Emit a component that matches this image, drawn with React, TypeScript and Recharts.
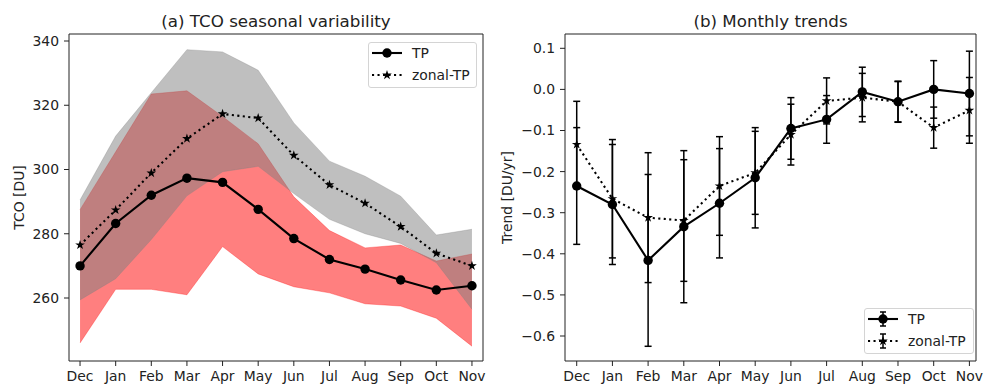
import React from 'react';
import { ComposedChart, Line, Area, XAxis, YAxis, ErrorBar, ReferenceArea } from 'recharts';

const months = ['Dec', 'Jan', 'Feb', 'Mar', 'Apr', 'May', 'Jun', 'Jul', 'Aug', 'Sep', 'Oct', 'Nov'];

// (a) seasonal TCO [DU]
const tpMean = [270, 283.2, 292, 297.3, 296, 287.6, 278.5, 272, 269, 265.6, 262.5, 263.8];
const zonalMean = [276.5, 287.4, 298.9, 309.6, 317.3, 316, 304.4, 295.2, 289.5, 282.2, 273.9, 270];
const tpLow = [246, 262.7, 262.7, 261, 276, 267.5, 263.5, 261.6, 258.2, 257.5, 253.7, 245];
const tpHigh = [287.5, 305.5, 323.5, 324.5, 316.5, 308, 291.5, 281, 275.6, 276.5, 271.5, 273.7];
const zonalLow = [259.4, 266, 278.2, 291.8, 299.3, 301, 292.5, 284.5, 280, 277, 271, 256.5];
const zonalHigh = [290.5, 310.4, 323.9, 337.3, 336.6, 330.9, 314.5, 302.6, 297.9, 291.7, 279.6, 281.4];

// (b) monthly trends [DU/yr]
const tpTrend = [-0.235, -0.28, -0.416, -0.334, -0.277, -0.215, -0.095, -0.073, -0.006, -0.03, 0.0, -0.01];
const tpTrendErr = [0.142, 0.146, 0.209, 0.185, 0.133, 0.122, 0.075, 0.058, 0.06, 0.05, 0.07, 0.103];
const zonalTrend = [-0.134, -0.266, -0.312, -0.319, -0.235, -0.203, -0.11, -0.028, -0.02, -0.03, -0.093, -0.051];
const zonalTrendErr = [0.105, 0.144, 0.158, 0.148, 0.12, 0.101, 0.074, 0.056, 0.059, 0.049, 0.05, 0.08];

const tcoTicks = [260, 280, 300, 320, 340];
const trendTicks = [0.1, 0, -0.1, -0.2, -0.3, -0.4, -0.5, -0.6];
const monthTicks = months.map((_, i) => i);

const FONT = "'DejaVu Sans', sans-serif";
const TXT = '#222';
const FS = 13.9;
const DOT_R = 4.7;

const seasonalData = months.map((m, i) => ({
  i,
  month: m,
  tp: tpMean[i],
  zonal: zonalMean[i],
  tpRange: [tpLow[i], tpHigh[i]],
  zonalRange: [zonalLow[i], zonalHigh[i]],
}));

const trendData = months.map((m, i) => ({
  i,
  month: m,
  tp: tpTrend[i],
  tpErr: tpTrendErr[i],
  zonal: zonalTrend[i],
  zonalErr: zonalTrendErr[i],
}));

const Star = ({ cx, cy, r = 5.1 }: { cx: number; cy: number; r?: number }) => {
  const pts: string[] = [];
  for (let k = 0; k < 10; k++) {
    const rad = k % 2 === 0 ? r : r * 0.382;
    const a = -Math.PI / 2 + (k * Math.PI) / 5;
    pts.push(`${cx + rad * Math.cos(a)},${cy + rad * Math.sin(a)}`);
  }
  return <polygon points={pts.join(' ')} fill="#000" />;
};

const starDot = (p: any) => <Star key={`st-${p.index}`} cx={p.cx} cy={p.cy} />;

const tickStyle = { fontSize: FS, fill: TXT, fontFamily: FONT };
const fmtTrend = (v: number) => (v < 0 ? '\u2212' + Math.abs(v).toFixed(1) : v.toFixed(1));

const LegendBox = ({ left, top, width, height, errors }: any) => {
  const rows = [11, 33];
  return (
    <div
      style={{
        position: 'absolute', left, top, width, height, boxSizing: 'border-box',
        border: '1px solid #d4d4d4', borderRadius: 3, background: 'rgba(255,255,255,0.85)',
      }}
    >
      <svg width={width} height={height} style={{ position: 'absolute', left: -1, top: -1 }}>
        {/* TP */}
        <line x1={4} x2={34} y1={rows[0]} y2={rows[0]} stroke="#000" strokeWidth={2.1} />
        {errors && (
          <g stroke="#000" strokeWidth={1.5}>
            <line x1={19} x2={19} y1={rows[0] - 7} y2={rows[0] + 7} />
            <line x1={16} x2={22} y1={rows[0] - 7} y2={rows[0] - 7} />
            <line x1={16} x2={22} y1={rows[0] + 7} y2={rows[0] + 7} />
          </g>
        )}
        <circle cx={19} cy={rows[0]} r={DOT_R} fill="#000" />
        <text x={44} y={rows[0]} dominantBaseline="central" fontSize={FS} fill={TXT} fontFamily={FONT}>TP</text>
        {/* zonal-TP */}
        <line x1={4} x2={34} y1={rows[1]} y2={rows[1]} stroke="#000" strokeWidth={2.1} strokeDasharray="2.1 3.4" />
        {errors && (
          <g stroke="#000" strokeWidth={1.5}>
            <line x1={19} x2={19} y1={rows[1] - 7} y2={rows[1] + 7} />
            <line x1={16} x2={22} y1={rows[1] - 7} y2={rows[1] - 7} />
            <line x1={16} x2={22} y1={rows[1] + 7} y2={rows[1] + 7} />
          </g>
        )}
        <Star cx={19} cy={rows[1]} />
        <text x={44} y={rows[1]} dominantBaseline="central" fontSize={FS} fill={TXT} fontFamily={FONT}>zonal-TP</text>
      </svg>
    </div>
  );
};

const SeasonalChart = () => (
  <ComposedChart width={490} height={384} data={seasonalData} margin={{ top: 34, right: 7, bottom: 0, left: 0 }}>
    <XAxis
      dataKey="i" type="number" domain={[-0.31, 11.31]} ticks={monthTicks} interval={0}
      tickFormatter={(v: number) => months[v]} tick={tickStyle} tickSize={5} tickMargin={5}
      axisLine={false} tickLine={{ stroke: '#222' }} height={23} allowDataOverflow
    />
    <YAxis
      type="number" domain={[240.39, 342.18]} ticks={tcoTicks} interval={0} tick={tickStyle}
      tickSize={5} tickMargin={5} axisLine={false} tickLine={{ stroke: '#222' }} width={69} allowDataOverflow
    />
    <Area dataKey="tpRange" type="linear" fill="#ff0000" fillOpacity={0.5} stroke="#ff0000" strokeOpacity={0.3} strokeWidth={1} isAnimationActive={false} dot={false} activeDot={false} />
    <Area dataKey="zonalRange" type="linear" fill="#808080" fillOpacity={0.5} stroke="#808080" strokeOpacity={0.3} strokeWidth={1} isAnimationActive={false} dot={false} activeDot={false} />
    <Line dataKey="tp" type="linear" stroke="#000" strokeWidth={2.1} dot={{ r: DOT_R, fill: '#000', stroke: 'none' }} activeDot={false} isAnimationActive={false} />
    <Line dataKey="zonal" type="linear" stroke="#000" strokeWidth={2.1} strokeDasharray="2.1 3.4" dot={starDot} activeDot={false} isAnimationActive={false} />
    <ReferenceArea x1={-0.31} x2={11.31} y1={240.39} y2={342.18} fill="none" stroke="#222" strokeWidth={1} ifOverflow="visible" />
  </ComposedChart>
);

const TrendChart = () => (
  <ComposedChart width={494} height={384} data={trendData} margin={{ top: 34, right: 8, bottom: 0, left: 0 }}>
    <XAxis
      dataKey="i" type="number" domain={[-0.328, 11.185]} ticks={monthTicks} interval={0}
      tickFormatter={(v: number) => months[v]} tick={tickStyle} tickSize={5} tickMargin={5}
      axisLine={false} tickLine={{ stroke: '#222' }} height={23} allowDataOverflow
    />
    <YAxis
      type="number" domain={[-0.6608, 0.1348]} ticks={trendTicks} interval={0} tick={tickStyle}
      tickFormatter={fmtTrend} tickSize={5} tickMargin={5} axisLine={false} tickLine={{ stroke: '#222' }}
      width={75} allowDataOverflow
    />
    <Line dataKey="tp" type="linear" stroke="#000" strokeWidth={2.1} dot={{ r: DOT_R, fill: '#000', stroke: 'none' }} activeDot={false} isAnimationActive={false}>
      <ErrorBar dataKey="tpErr" direction="y" width={3.5} stroke="#000" strokeWidth={1.5} isAnimationActive={false} />
    </Line>
    <Line dataKey="zonal" type="linear" stroke="#000" strokeWidth={2.1} strokeDasharray="2.1 3.4" dot={starDot} activeDot={false} isAnimationActive={false}>
      <ErrorBar dataKey="zonalErr" direction="y" width={3.5} stroke="#000" strokeWidth={1.5} isAnimationActive={false} />
    </Line>
    <ReferenceArea x1={-0.328} x2={11.185} y1={-0.6608} y2={0.1348} fill="none" stroke="#222" strokeWidth={1} ifOverflow="visible" />
  </ComposedChart>
);

export default function App() {
  return (
    <div style={{ position: 'absolute', left: 0, top: 0, width: 984, height: 384, background: '#fff', fontFamily: FONT, overflow: 'hidden' }}>
      <div style={{ position: 'absolute', left: 0, top: 0 }}>
        <SeasonalChart />
      </div>
      <div style={{ position: 'absolute', left: 490, top: 0 }}>
        <TrendChart />
      </div>
      <svg width={984} height={384} style={{ position: 'absolute', left: 0, top: 0, pointerEvents: 'none' }}>
        <text x={276} y={27} textAnchor="middle" fontSize={16.7} fill={TXT} fontFamily={FONT}>(a) TCO seasonal variability</text>
        <text x={770.5} y={27} textAnchor="middle" fontSize={16.7} fill={TXT} fontFamily={FONT}>(b) Monthly trends</text>
        <text x={19} y={197.5} textAnchor="middle" dominantBaseline="central" transform="rotate(-90 19 197.5)" fontSize={FS} fill={TXT} fontFamily={FONT}>TCO [DU]</text>
        <text x={507} y={197.5} textAnchor="middle" dominantBaseline="central" transform="rotate(-90 507 197.5)" fontSize={FS} fill={TXT} fontFamily={FONT}>Trend [DU/yr]</text>
      </svg>
      <LegendBox left={368} top={42} width={109} height={46} />
      <LegendBox left={864} top={308} width={110} height={46} errors />
    </div>
  );
}
